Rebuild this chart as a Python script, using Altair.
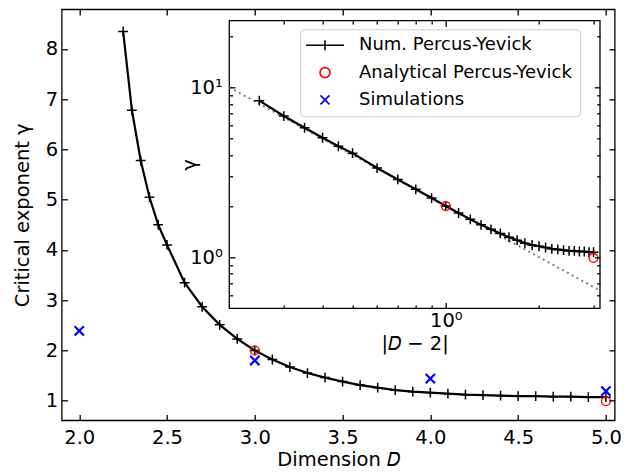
import altair as alt
import numpy as np
import pandas as pd

# ---------------- data ----------------
D_NUM = [2.25, 2.3, 2.35, 2.4, 2.45, 2.5, 2.6, 2.7, 2.8, 2.9, 3.0, 3.1, 3.2, 3.3, 3.4,
         3.5, 3.6, 3.7, 3.8, 3.9, 4.0, 4.1, 4.2, 4.3, 4.4, 4.5, 4.6, 4.7, 4.8, 4.9, 5.0]
GAMMA_NUM = [8.35, 6.78, 5.78, 5.05, 4.50, 4.10, 3.35, 2.87, 2.51, 2.23, 2.00, 1.82, 1.67,
             1.55, 1.46, 1.38, 1.31, 1.26, 1.21, 1.18, 1.16, 1.14, 1.12, 1.11, 1.10, 1.09,
             1.09, 1.08, 1.08, 1.07, 1.07]
D_ANA = [3.0, 5.0]
GAMMA_ANA = [2.0, 0.99]
D_SIM = [2.0, 3.0, 4.0, 5.0]
GAMMA_SIM = [2.39, 1.80, 1.44, 1.19]
GUIDE_X = [0.2, 3.147]      # |D-2| end points of the dotted power-law guide
GUIDE_Y = [10.0, 0.636]

MAIN_XTICKS = [2.0, 2.5, 3.0, 3.5, 4.0, 4.5, 5.0]
MAIN_YTICKS = [1, 2, 3, 4, 5, 6, 7, 8]
INSET_XTICKS = [0.3, 0.4, 0.5, 0.6, 0.7, 0.8, 0.9, 1, 2, 3]
INSET_YTICKS = [0.6, 0.7, 0.8, 0.9, 1, 2, 3, 4, 5, 6, 7, 8, 9, 10, 20]
LEGEND_LABELS = ["Num. Percus-Yevick", "Analytical Percus-Yevick", "Simulations"]

num = pd.DataFrame({"D": D_NUM, "g": GAMMA_NUM})
num["a"] = (num["D"] - 2).abs()
ana = pd.DataFrame({"D": D_ANA, "g": GAMMA_ANA})
ana["a"] = (ana["D"] - 2).abs()
sim = pd.DataFrame({"D": D_SIM, "g": GAMMA_SIM})
guide = pd.DataFrame({"a": GUIDE_X, "g": GUIDE_Y})
frame = pd.DataFrame({"x": [GUIDE_X[0]], "x2": [GUIDE_X[1]], "y": [0.5], "y2": [24.7]})
leg_df = pd.DataFrame({"s": LEGEND_LABELS, "x": [np.nan] * 3, "y": [np.nan] * 3})

# ---------------- layout ----------------
W, H = 553, 411
FONT = "DejaVu Sans"
FS = 19.5
XDOM, YDOM = [1.9, 5.05], [0.61, 8.79]
IXR, IYR = [167.6, 538.3], [299, 11.4]

xs = alt.Scale(domain=XDOM, nice=False, zero=False)
ys = alt.Scale(domain=YDOM, nice=False, zero=False)
ixs = alt.Scale(type="log", domain=[GUIDE_X[0], GUIDE_X[1]], range=IXR, nice=False)
iys = alt.Scale(type="log", domain=[0.5, 24.7], range=IYR, nice=False)

PLUS = "M-1,0L1,0M0,-1L0,1"
XMARK = "M-1,-1L1,1M-1,1L1,-1"
LEG_LINE = "M-3.8,0L3.8,0M0,-1L0,1"
LEG_X = "M-0.9,-0.9L0.9,0.9M-0.9,0.9L0.9,-0.9"


def tick_axis(orient, offset, values, size=5.7):
    return alt.Axis(orient=orient, offset=offset, values=values, labels=False,
                    domain=False, grid=False, title=None, ticks=True,
                    tickSize=size, tickWidth=1.3, tickColor="black", zindex=3)


MINOR = {"condition": {"test": "datum.value == 1 || datum.value == 10", "value": 5.7},
         "value": 3.3}

main_x_axis = alt.Axis(orient="bottom", values=MAIN_XTICKS, format=".1f", ticks=False,
                       tickSize=0, domain=False, labelFontSize=FS, labelPadding=8,
                       title="Dimension 𝐷", titleFontSize=FS, titlePadding=4)
main_y_axis = alt.Axis(orient="left", values=MAIN_YTICKS, format="d", ticks=False,
                       tickSize=0, domain=False, labelFontSize=FS, labelPadding=4,
                       title="Critical exponent γ", titleFontSize=FS, titlePadding=13)

lbl_x = "datum.value == 1 ? '10⁰' : ''"
lbl_y = "datum.value == 1 ? '10⁰' : (datum.value == 10 ? '10¹' : '')"
inset_x_axis = alt.Axis(orient="bottom", offset=-(H - IYR[0]), values=INSET_XTICKS,
                        labelExpr=lbl_x, ticks=False, tickSize=0, domain=False,
                        labelFontSize=FS, labelPadding=3, labelFlush=False,
                        labelOverlap=False, title="|𝐷 − 2|", titleFontSize=FS,
                        titlePadding=5, zindex=3)
inset_y_axis = alt.Axis(orient="left", offset=-IXR[0], values=INSET_YTICKS,
                        labelExpr=lbl_y, ticks=False, tickSize=0, domain=False,
                        labelFontSize=FS, labelPadding=7, labelFlush=False,
                        labelOverlap=False, title="γ", titleFontSize=FS, titleX=-30,
                        zindex=3)

# ---------------- main panel ----------------
main_line = alt.Chart(num).mark_line(color="black", strokeWidth=2.2).encode(
    x=alt.X("D:Q", scale=xs, axis=main_x_axis),
    y=alt.Y("g:Q", scale=ys, axis=main_y_axis),
)
main_plus = alt.Chart(num).mark_point(shape=PLUS, size=96, filled=False, color="black",
                                      strokeWidth=1.5, opacity=1).encode(
    x=alt.X("D:Q", scale=xs, axis=tick_axis("top", -H, MAIN_XTICKS)),
    y=alt.Y("g:Q", scale=ys, axis=tick_axis("right", -W, MAIN_YTICKS)),
)
main_ana = alt.Chart(ana).mark_point(shape="circle", size=76, filled=False, color="red",
                                     strokeWidth=1.4, opacity=1).encode(
    x=alt.X("D:Q", scale=xs, axis=tick_axis("bottom", -H, MAIN_XTICKS)),
    y=alt.Y("g:Q", scale=ys, axis=tick_axis("left", -W, MAIN_YTICKS)),
)
main_sim = alt.Chart(sim).mark_point(shape=XMARK, size=85, filled=False, color="blue",
                                     strokeWidth=2.2, opacity=1).encode(
    x=alt.X("D:Q", scale=xs, axis=None),
    y=alt.Y("g:Q", scale=ys, axis=None),
)

# ---------------- inset ----------------
inset_bg = alt.Chart(frame).mark_rect(fill="white", stroke="black", strokeWidth=1.3).encode(
    x=alt.X("x:Q", scale=ixs, axis=inset_x_axis),
    x2="x2:Q",
    y=alt.Y("y:Q", scale=iys, axis=inset_y_axis),
    y2="y2:Q",
)
inset_guide = alt.Chart(guide).mark_line(color="#808080", strokeWidth=2,
                                         strokeDash=[2, 3.5]).encode(
    x=alt.X("a:Q", scale=ixs, axis=tick_axis("top", -IYR[0], INSET_XTICKS, MINOR)),
    y=alt.Y("g:Q", scale=iys, axis=tick_axis("right", -(W - IXR[0]), INSET_YTICKS, MINOR)),
)
inset_line = alt.Chart(num).mark_line(color="black", strokeWidth=2.2).encode(
    x=alt.X("a:Q", scale=ixs, axis=tick_axis("bottom", -(H - IYR[1]), INSET_XTICKS, MINOR)),
    y=alt.Y("g:Q", scale=iys, axis=tick_axis("left", -IXR[1], INSET_YTICKS, MINOR)),
)
inset_plus = alt.Chart(num).mark_point(shape=PLUS, size=96, filled=False, color="black",
                                       strokeWidth=1.5, opacity=1).encode(
    x=alt.X("a:Q", scale=ixs, axis=None),
    y=alt.Y("g:Q", scale=iys, axis=None),
)
inset_ana = alt.Chart(ana).mark_point(shape="circle", size=76, filled=False, color="red",
                                      strokeWidth=1.4, opacity=1).encode(
    x=alt.X("a:Q", scale=ixs, axis=None),
    y=alt.Y("g:Q", scale=iys, axis=None),
)

leg = alt.Legend(title=None, orient="none", legendX=238.3, legendY=20, direction="vertical",
                 labelFont=FONT, labelFontSize=18, labelColor="black", labelLimit=0,
                 symbolSize=100, symbolStrokeWidth=1.6, symbolOffset=9, labelOffset=25,
                 padding=7, rowPadding=9.3, fillColor="rgba(255,255,255,0.8)",
                 strokeColor="#cccccc", cornerRadius=4, zindex=4)
legend_layer = alt.Chart(leg_df).mark_point(filled=False, opacity=1, strokeWidth=1.6).encode(
    x=alt.X("x:Q", scale=xs, axis=None),
    y=alt.Y("y:Q", scale=ys, axis=None),
    color=alt.Color("s:N", scale=alt.Scale(domain=LEGEND_LABELS, range=["black", "red", "blue"]),
                    legend=leg),
    shape=alt.Shape("s:N", scale=alt.Scale(domain=LEGEND_LABELS, range=[LEG_LINE, "circle", LEG_X]),
                    legend=leg),
)

chart = alt.layer(
    main_line, main_plus, main_ana, main_sim,
    inset_bg, inset_guide, inset_line, inset_plus, inset_ana, legend_layer,
).resolve_scale(
    x="independent", y="independent", color="independent", shape="independent"
).properties(
    width=W, height=H,
    autosize=alt.AutoSizeParams(type="none"),
    padding={"left": 53.7, "top": 1.3, "right": 17, "bottom": 52},
    background="white",
).configure_view(
    stroke="black", strokeWidth=1.3
).configure_axis(
    grid=False, labelFont=FONT, titleFont=FONT, labelColor="black", titleColor="black",
    titleFontWeight="normal",
)

chart.save("out.html", embed_options={"renderer": "svg", "actions": False})
